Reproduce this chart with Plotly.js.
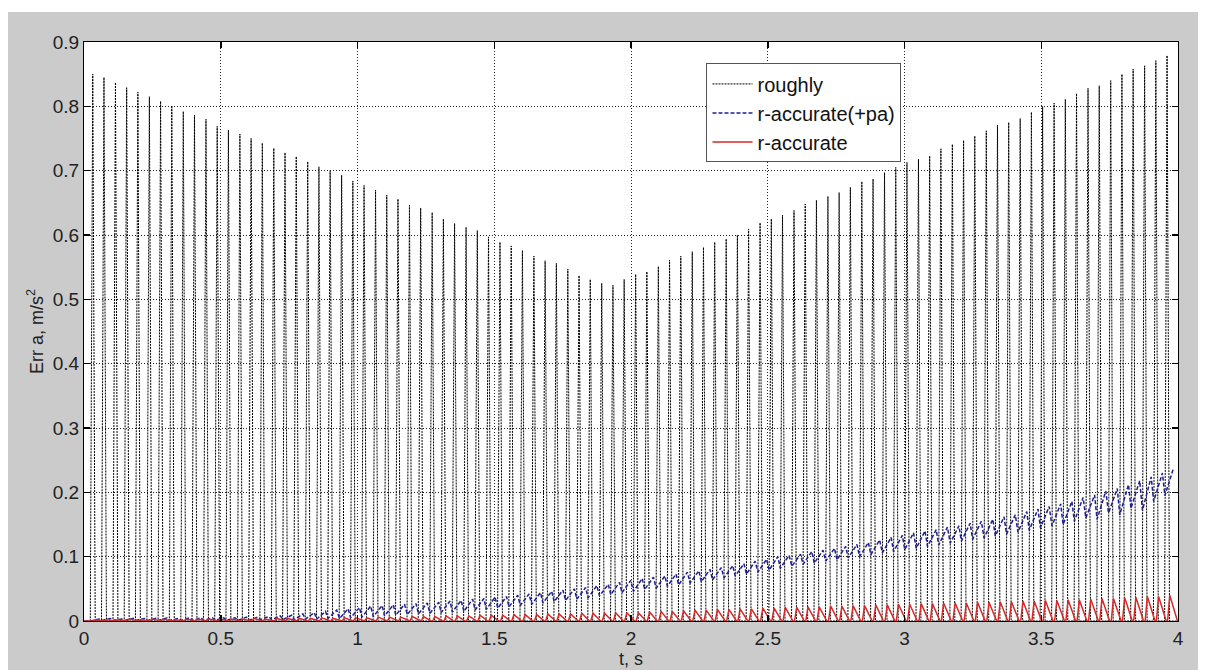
<!DOCTYPE html>
<html>
<head>
<meta charset="utf-8">
<script src="https://cdn.plot.ly/plotly-3.0.1.min.js"></script>
<style>
  html, body { margin: 0; padding: 0; background: #ffffff; }
  #chart { position: absolute; left: 8px; top: 12px; width: 1190px; height: 658px; }
</style>
</head>
<body>
<div id="chart"></div>
<script>
// ---- Data ----
const seriesNames = ["roughly", "r-accurate(+pa)", "r-accurate"];

// time of each oscillation peak (s)
const peakTimes = [
  0.032,0.073,0.115,0.156,0.197,0.239,0.280,0.321,0.363,0.404,0.446,0.487,
  0.528,0.570,0.611,0.652,0.694,0.735,0.776,0.818,0.859,0.900,0.942,0.983,
  1.024,1.066,1.107,1.148,1.190,1.231,1.273,1.314,1.355,1.397,1.438,1.479,
  1.521,1.562,1.603,1.645,1.686,1.727,1.769,1.810,1.851,1.893,1.934,1.975,
  2.017,2.058,2.100,2.141,2.182,2.224,2.265,2.306,2.348,2.389,2.430,2.472,
  2.513,2.554,2.596,2.637,2.678,2.720,2.761,2.802,2.844,2.885,2.927,2.968,
  3.009,3.051,3.092,3.133,3.175,3.216,3.257,3.299,3.340,3.381,3.423,3.464,
  3.505,3.547,3.588,3.629,3.671,3.712,3.754,3.795,3.836,3.878,3.919,3.960
];

// "roughly": peak of each spike (m/s^2)
const roughlyPeaks = [
  0.850,0.845,0.837,0.829,0.822,0.815,0.808,0.801,0.792,0.786,0.780,0.769,
  0.763,0.757,0.750,0.743,0.735,0.728,0.722,0.714,0.706,0.700,0.693,0.684,
  0.677,0.670,0.662,0.656,0.646,0.642,0.635,0.625,0.618,0.612,0.607,0.597,
  0.589,0.583,0.576,0.567,0.560,0.556,0.547,0.537,0.531,0.525,0.522,0.531,
  0.539,0.543,0.551,0.561,0.567,0.574,0.581,0.589,0.594,0.600,0.609,0.619,
  0.625,0.631,0.638,0.648,0.654,0.660,0.666,0.674,0.683,0.687,0.697,0.705,
  0.713,0.718,0.723,0.734,0.741,0.747,0.754,0.762,0.771,0.775,0.781,0.791,
  0.800,0.805,0.811,0.820,0.828,0.832,0.840,0.850,0.858,0.863,0.871,0.879
];

// "r-accurate(+pa)": high and low of each cycle
const accPaHigh = [
  0.003,0.004,0.003,0.004,0.004,0.004,0.005,0.004,0.005,0.005,0.005,0.005,
  0.005,0.006,0.006,0.007,0.008,0.009,0.011,0.013,0.015,0.017,0.019,0.021,
  0.023,0.024,0.025,0.026,0.027,0.028,0.029,0.031,0.032,0.034,0.035,0.037,
  0.038,0.040,0.042,0.044,0.046,0.048,0.050,0.052,0.055,0.057,0.060,0.063,
  0.066,0.068,0.070,0.073,0.076,0.078,0.080,0.083,0.086,0.089,0.093,0.096,
  0.100,0.102,0.104,0.108,0.110,0.113,0.116,0.119,0.122,0.126,0.130,0.133,
  0.137,0.140,0.142,0.146,0.148,0.152,0.155,0.158,0.162,0.165,0.170,0.174,
  0.178,0.182,0.186,0.192,0.196,0.202,0.206,0.212,0.218,0.224,0.230,0.238
];
const accPaLow = [
  0.000,0.001,0.001,0.001,0.001,0.001,0.001,0.001,0.001,0.001,0.001,0.001,
  0.001,0.001,0.001,0.002,0.002,0.002,0.002,0.003,0.003,0.004,0.004,0.005,
  0.006,0.007,0.008,0.009,0.010,0.011,0.012,0.013,0.014,0.015,0.017,0.018,
  0.020,0.022,0.024,0.026,0.028,0.030,0.032,0.034,0.036,0.039,0.041,0.044,
  0.046,0.049,0.051,0.054,0.056,0.059,0.061,0.064,0.067,0.070,0.073,0.076,
  0.079,0.082,0.085,0.088,0.090,0.093,0.095,0.098,0.100,0.103,0.106,0.108,
  0.111,0.113,0.116,0.118,0.121,0.124,0.127,0.129,0.132,0.135,0.138,0.141,
  0.145,0.148,0.150,0.155,0.160,0.158,0.168,0.165,0.175,0.172,0.186,0.195
];

// "r-accurate": peak of each sawtooth tooth (returns to 0)
const accPeaks = [
  0.002,0.002,0.002,0.003,0.002,0.003,0.003,0.002,0.003,0.003,0.003,0.003,
  0.003,0.003,0.004,0.003,0.004,0.004,0.004,0.004,0.005,0.004,0.005,0.005,
  0.005,0.006,0.006,0.006,0.007,0.007,0.007,0.008,0.008,0.008,0.009,0.009,
  0.009,0.010,0.010,0.010,0.011,0.011,0.011,0.012,0.012,0.012,0.013,0.013,
  0.013,0.014,0.015,0.015,0.016,0.017,0.017,0.018,0.018,0.019,0.019,0.020,
  0.020,0.021,0.021,0.022,0.022,0.023,0.023,0.024,0.024,0.025,0.025,0.026,
  0.026,0.027,0.027,0.028,0.028,0.028,0.029,0.029,0.030,0.030,0.031,0.031,
  0.032,0.032,0.033,0.033,0.034,0.035,0.035,0.036,0.037,0.038,0.038,0.040
];

const xTickVals = [0, 0.5, 1, 1.5, 2, 2.5, 3, 3.5, 4];
const xTickText = ["0", "0.5", "1", "1.5", "2", "2.5", "3", "3.5", "4"];
const yTickVals = [0, 0.1, 0.2, 0.3, 0.4, 0.5, 0.6, 0.7, 0.8, 0.9];
const yTickText = ["0", "0.1", "0.2", "0.3", "0.4", "0.5", "0.6", "0.7", "0.8", "0.9"];

// ---- Build traces (waveform shape per cycle) ----
const rx = [0], ry = [0];
peakTimes.forEach((t, i) => {
  rx.push(t - 0.009, t, t + 0.009);
  ry.push(0, roughlyPeaks[i], 0);
});
rx.push(4); ry.push(0);

const bx = [0], by = [0];
peakTimes.forEach((t, i) => {
  bx.push(t - 0.008, t + 0.024);
  by.push(accPaLow[i], accPaHigh[i]);
});

const ax = [0], ay = [0];
peakTimes.forEach((t, i) => {
  ax.push(t + 0.002, t + 0.010, t + 0.038);
  ay.push(0, accPeaks[i], 0);
});

const FONT = 'Liberation Sans, Arial, sans-serif';

const traces = [
  { x: rx, y: ry, name: seriesNames[0], type: 'scatter', mode: 'lines',
    line: { color: '#000000', width: 1, dash: '2px,1px' } },
  { x: bx, y: by, name: seriesNames[1], type: 'scatter', mode: 'lines',
    line: { color: '#1f1f8f', width: 1.5, dash: '4px,2px' } },
  { x: ax, y: ay, name: seriesNames[2], type: 'scatter', mode: 'lines',
    line: { color: '#d42a2a', width: 1.5 } }
];

const axisCommon = {
  showline: true, linecolor: '#000000', linewidth: 1, mirror: 'ticks',
  ticks: 'inside', ticklen: 6, tickcolor: '#000000', tickwidth: 1.5,
  showgrid: true, gridcolor: '#222222', gridwidth: 1, griddash: '1px,2px',
  zeroline: false,
  tickfont: { family: FONT, size: 19, color: '#222222' }
};

const layout = {
  width: 1190, height: 658,
  paper_bgcolor: '#cbcbcb', plot_bgcolor: '#ffffff',
  margin: { l: 76, r: 20, t: 30, b: 49 },
  showlegend: true,
  legend: {
    x: 0.569, y: 0.963, xanchor: 'left', yanchor: 'top',
    bgcolor: '#ffffff', bordercolor: '#555555', borderwidth: 1,
    font: { family: FONT, size: 20, color: '#111111' },
    tracegroupgap: 0, itemwidth: 40
  },
  xaxis: Object.assign({}, axisCommon, {
    range: [0, 4], tickmode: 'array', tickvals: xTickVals, ticktext: xTickText,
    title: { text: 't, s', standoff: 0,
      font: { family: FONT, size: 18, color: '#222222' } }
  }),
  yaxis: Object.assign({}, axisCommon, {
    range: [0, 0.9], tickmode: 'array', tickvals: yTickVals, ticktext: yTickText,
    title: { text: 'Err a, m/s<sup>2</sup>', standoff: 4,
      font: { family: FONT, size: 18, color: '#222222' } }
  })
};

Plotly.newPlot('chart', traces, layout, { displayModeBar: false, staticPlot: true });
</script>
</body>
</html>
